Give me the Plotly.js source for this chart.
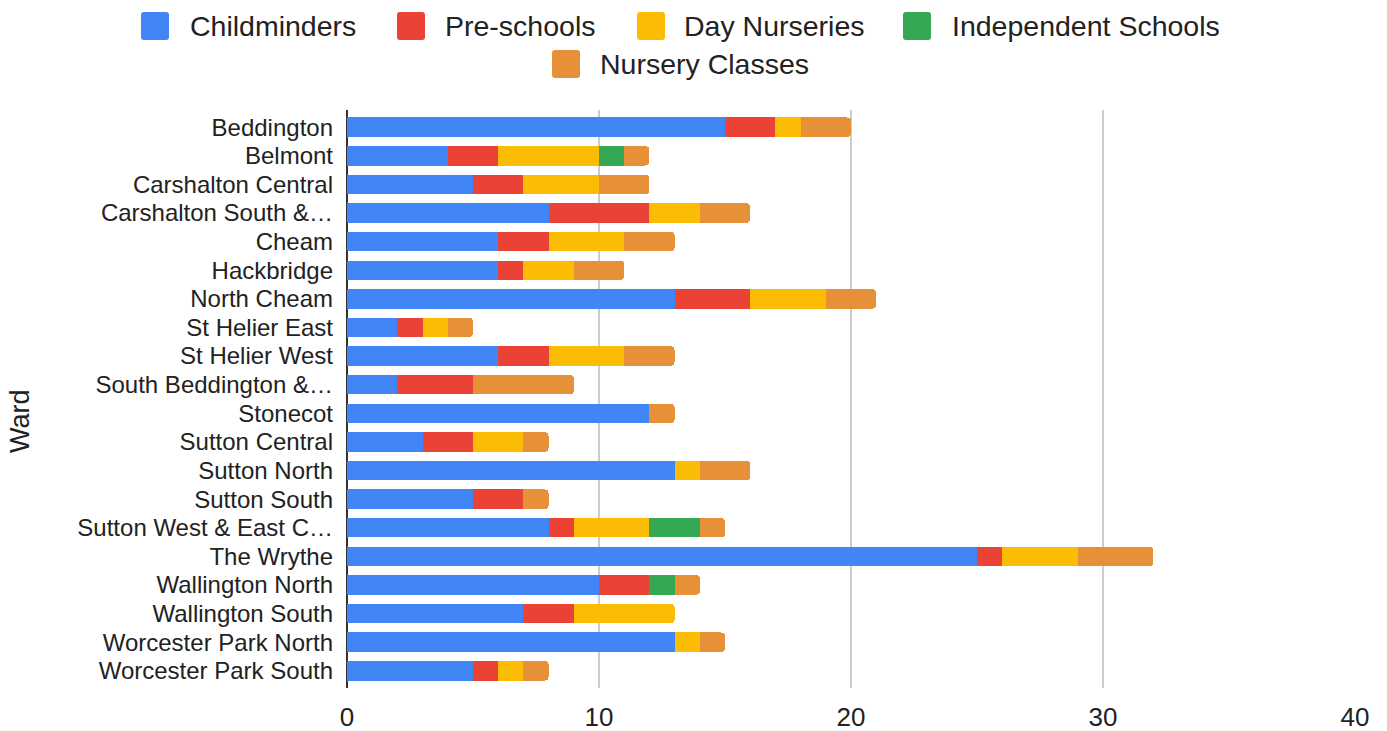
<!DOCTYPE html>
<html><head><meta charset="utf-8">
<script src="https://cdn.plot.ly/plotly-3.0.1.min.js"></script>
<style>html,body{margin:0;padding:0;background:#fff}#chart{width:1387px;height:731px}</style>
</head><body><div id="chart"></div>
<script>
const wards = ["Beddington","Belmont","Carshalton Central","Carshalton South &\u2026","Cheam","Hackbridge","North Cheam","St Helier East","St Helier West","South Beddington &\u2026","Stonecot","Sutton Central","Sutton North","Sutton South","Sutton West & East C\u2026","The Wrythe","Wallington North","Wallington South","Worcester Park North","Worcester Park South"];
const childminders =       [15,4,5,8,6,6,13,2,6,2,12,3,13,5,8,25,10,7,13,5];
const preschools =         [2,2,2,4,2,1,3,1,2,3,0,2,0,2,1,1,2,2,0,1];
const dayNurseries =       [1,4,3,2,3,2,3,1,3,0,0,2,1,0,3,3,0,4,1,1];
const independentSchools = [0,1,0,0,0,0,0,0,0,0,0,0,0,0,2,0,1,0,0,0];
const nurseryClasses =     [2,1,2,2,2,2,2,1,2,4,1,1,2,1,1,3,1,0,1,1];
const seriesNames = ["Childminders","Pre-schools","Day Nurseries","Independent Schools","Nursery Classes"];
const seriesColors = ["#4285F4","#EA4335","#FBBC04","#34A853","#E69138"];
const seriesData = [childminders, preschools, dayNurseries, independentSchools, nurseryClasses];

// legend placement (pixels on the page)
const legendPos = [
  {sq: 155, tx: 189, y: 26},
  {sq: 411, tx: 444, y: 26},
  {sq: 651, tx: 683, y: 26},
  {sq: 917, tx: 951, y: 26},
  {sq: 566, tx: 599, y: 64}
];

const W = 1387, H = 731;
const M = {l: 347, r: 32, t: 110, b: 43};
const pw = W - M.l - M.r, ph = H - M.t - M.b;
const px2x = p => (p - M.l) / pw;
const py2y = p => (H - M.b - p) / ph;

const traces = seriesData.map((vals, i) => ({
  type: "bar", orientation: "h", name: seriesNames[i],
  y: wards, x: vals, marker: {color: seriesColors[i], line: {width: 0}},
  showlegend: false
}));

function roundSq(h, r) {
  return `M ${-h+r},${-h} L ${h-r},${-h} Q ${h},${-h} ${h},${-h+r} L ${h},${h-r} Q ${h},${h} ${h-r},${h} L ${-h+r},${h} Q ${-h},${h} ${-h},${h-r} L ${-h},${-h+r} Q ${-h},${-h} ${-h+r},${-h} Z`;
}

const shapes = [], annotations = [];
legendPos.forEach((p, i) => {
  shapes.push({type: "path", xref: "paper", yref: "paper", xsizemode: "pixel", ysizemode: "pixel",
    xanchor: px2x(p.sq), yanchor: py2y(p.y), path: roundSq(14, 3),
    fillcolor: seriesColors[i], line: {width: 0}, layer: "above"});
  annotations.push({xref: "paper", yref: "paper", x: px2x(p.tx), y: py2y(p.y),
    xanchor: "left", yanchor: "middle", showarrow: false, text: seriesNames[i],
    font: {size: 28.5, color: "#222"}, borderpad: 0});
});
// y-axis title
annotations.push({xref: "paper", yref: "paper", x: px2x(20), y: py2y(421), textangle: -90,
  xanchor: "center", yanchor: "middle", showarrow: false, text: "Ward",
  font: {size: 27, color: "#222"}, borderpad: 0});

const layout = {
  width: W, height: H,
  margin: M,
  barmode: "stack", bargap: 0.32, barcornerradius: 4,
  paper_bgcolor: "#fff", plot_bgcolor: "#fff",
  font: {family: "Liberation Sans, Arial, sans-serif", color: "#222"},
  showlegend: false,
  shapes: shapes, annotations: annotations,
  xaxis: {range: [0, 40], dtick: 10, showgrid: true, gridcolor: "#cccccc", gridwidth: 2,
          zeroline: true, zerolinecolor: "#333", zerolinewidth: 2,
          tickfont: {size: 26, color: "#222"}, ticks: "", ticklabelstandoff: 11, fixedrange: true, automargin: false},
  yaxis: {type: "category", range: [19.6, -0.6], tickmode: "linear", tick0: 0, dtick: 1,
          tickfont: {size: 24, color: "#222"},
          ticks: "", ticklabelstandoff: 13, showline: false, showgrid: false, automargin: false}
};
Plotly.newPlot("chart", traces, layout, {displayModeBar: false, staticPlot: true});
</script></body></html>
